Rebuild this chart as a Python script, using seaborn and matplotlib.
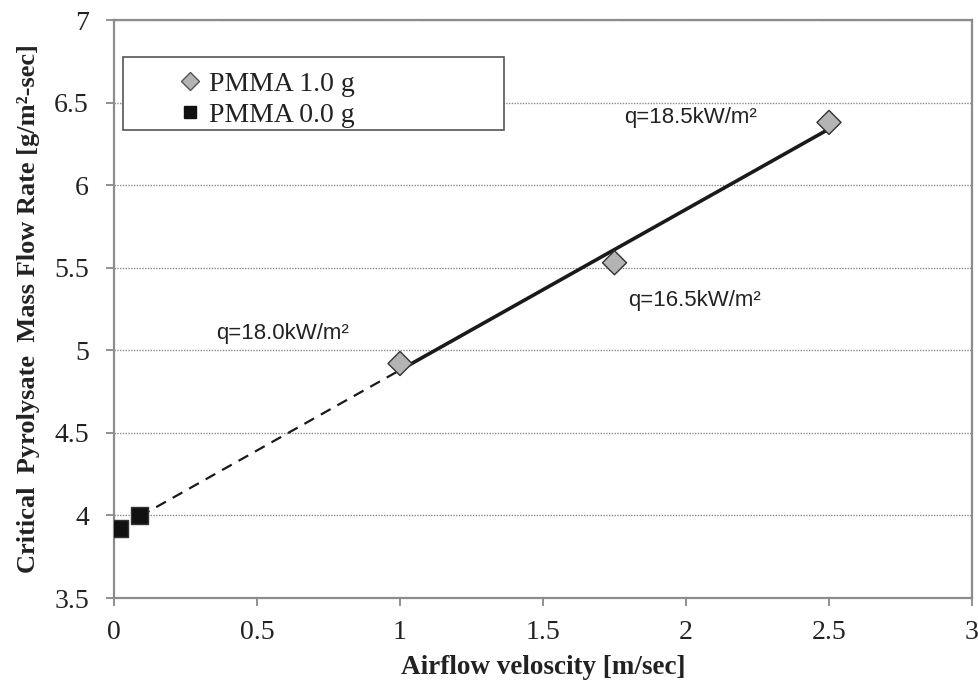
import numpy as np
import pandas as pd
import matplotlib
matplotlib.use("Agg")
import matplotlib.pyplot as plt
from matplotlib.patches import Rectangle
import seaborn as sns

# Data
vel_1g = [1.0, 1.75, 2.5]
mdot_1g = [4.92, 5.53, 6.38]
vel_0g = [0.02, 0.09]
mdot_0g = [3.92, 4.00]
fit_solid_x = [1.0, 2.5]
fit_dash_x = [0.09, 1.0]
notes = ["q=18.0kW/m²", "q=16.5kW/m²", "q=18.5kW/m²"]
note_xy = [(0.357, 5.10), (1.797, 5.30), (1.783, 6.41)]
x_ticks = [0, 0.5, 1, 1.5, 2, 2.5, 3]
y_ticks = [3.5, 4, 4.5, 5, 5.5, 6, 6.5, 7]

df = pd.concat([
    pd.DataFrame({"v": vel_1g, "m": mdot_1g, "series": "PMMA 1.0 g"}),
    pd.DataFrame({"v": vel_0g, "m": mdot_0g, "series": "PMMA 0.0 g"}),
])

sns.set_theme(style="white")
plt.rcParams["font.family"] = ["Liberation Serif", "DejaVu Serif"]

fig = plt.figure(figsize=(9.79, 7), dpi=100)
ax = fig.add_axes([114 / 979, 1 - 598 / 700, 858 / 979, 578 / 700])

# linear fit through the 1 g points
coef = np.polyfit(vel_1g, mdot_1g, 1)
ax.plot(fit_solid_x, np.polyval(coef, fit_solid_x), color="#1a1a1a", lw=2.6, zorder=3)
ax.plot(fit_dash_x, np.polyval(coef, fit_dash_x), color="#1a1a1a", lw=1.6,
        ls=(0, (5, 3.5)), zorder=3)

sns.scatterplot(data=df, x="v", y="m", hue="series", style="series",
                palette={"PMMA 1.0 g": "#b4b4b4", "PMMA 0.0 g": "#111111"},
                markers={"PMMA 1.0 g": "D", "PMMA 0.0 g": "s"},
                s=150, edgecolor="#333333", linewidth=1.0, ax=ax, zorder=4, legend=False)

for txt, (tx, ty) in zip(notes, note_xy):
    ax.text(tx, ty, txt, fontsize=16, family=["Liberation Sans", "DejaVu Sans"],
            color="#222222", va="center")

ax.set_xlim(0, 3)
ax.set_ylim(3.5, 7)
ax.set_xticks(x_ticks)
ax.set_xticklabels([f"{t:g}" for t in x_ticks])
ax.set_yticks(y_ticks)
ax.set_yticklabels([f"{t:g}" for t in y_ticks])
ax.tick_params(axis="both", labelsize=20, direction="out", length=6, width=1.3,
               color="#888888", labelcolor="#222222", left=True, bottom=True)
ax.tick_params(axis="x", pad=10)
ax.tick_params(axis="y", pad=12)
ax.yaxis.grid(True, color="#8a8a8a", ls=(0, (1, 1)), lw=1.0)
ax.xaxis.grid(False)
for sp in ax.spines.values():
    sp.set_color("#8c8c8c")
    sp.set_linewidth(1.6)

ax.set_xlabel("Airflow veloscity [m/sec]", fontsize=19.5, fontweight="bold",
              color="#222222", labelpad=7)
ax.set_ylabel("Critical  Pyrolysate  Mass Flow Rate [g/m²-sec]", fontsize=19,
              fontweight="bold", color="#222222", labelpad=10)

# legend box with a wide frame like the original
box = Rectangle((9 / 858, (598 - 130) / 578), 381 / 858, 73 / 578, transform=ax.transAxes,
                facecolor="white", edgecolor="#555555", lw=1.2, zorder=5)
ax.add_patch(box)
handles = [
    plt.Line2D([], [], ls="none", marker="D", ms=9, mfc="#b4b4b4", mec="#555555", mew=1.0),
    plt.Line2D([], [], ls="none", marker="s", ms=9, mfc="#111111", mec="#111111"),
]
leg = ax.legend(handles, ["PMMA 1.0 g", "PMMA 0.0 g"], loc="upper left",
                bbox_to_anchor=(44 / 858, (598 - 52) / 578), frameon=False, fontsize=20,
                handlelength=0.9, handletextpad=0.25, labelspacing=0.2, borderpad=0.2)
leg.set_zorder(6)
for t in leg.get_texts():
    t.set_color("#222222")

fig.savefig("out.png", dpi=100, facecolor="white")
